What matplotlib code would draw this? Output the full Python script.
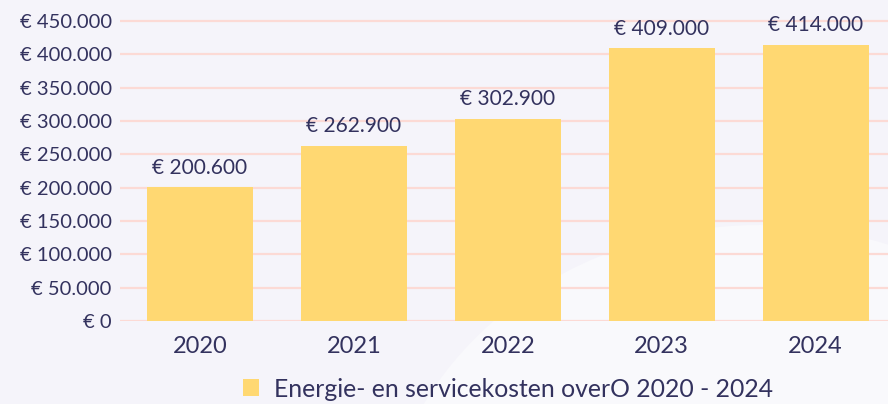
import matplotlib
matplotlib.use("Agg")
import matplotlib.pyplot as plt
from matplotlib.patches import Ellipse, Patch

years = ["2020", "2021", "2022", "2023", "2024"]
costs = [200600, 262900, 302900, 409000, 414000]
yticks = [0, 50000, 100000, 150000, 200000, 250000, 300000, 350000, 400000, 450000]
legend_label = "Energie- en servicekosten overO 2020 - 2024"

BG = "#f5f4fa"
GRID = "#fcdad5"
BAR = "#ffd872"
TXT = "#33325e"

def euro(v):
    s = f"{v:,.0f}".replace(",", ".")
    return "€ " + s

plt.rcParams["font.family"] = ["Lato", "DejaVu Sans"]

W, H = 888, 404
fig = plt.figure(figsize=(W / 100, H / 100), dpi=100)
fig.patch.set_facecolor(BG)

# decorative faint shape in background
bgax = fig.add_axes([0, 0, 1, 1], zorder=-1)
bgax.set_xlim(0, W)
bgax.set_ylim(H, 0)
bgax.axis("off")
bgax.add_patch(Ellipse((760, 560), 760, 670, facecolor="#f9f9fc", edgecolor="none"))

ymax = 460000
px_per = 300 / 450000
x0, y0 = 120, 321
top_px = y0 - ymax * px_per
ax = fig.add_axes([x0 / W, 1 - y0 / H, 1 - x0 / W, (y0 - top_px) / H])
ax.set_facecolor("none")

xs = list(range(len(years)))
bars = ax.bar(xs, costs, width=0.69, color=BAR, zorder=3, label=legend_label)
ax.set_xlim(-0.52, 4.47)
ax.set_ylim(0, ymax)

ax.set_yticks(yticks)
ax.set_yticklabels([euro(v) for v in yticks])
ax.set_xticks(xs)
ax.set_xticklabels(years)
ax.tick_params(axis="y", length=0, pad=6, labelsize=14.5, labelcolor=TXT)
ax.tick_params(axis="x", length=0, pad=11, labelsize=17, labelcolor=TXT)
for s in ax.spines.values():
    s.set_visible(False)
ax.grid(axis="y", color=GRID, linewidth=1.6)
ax.set_axisbelow(True)

for x, v in zip(xs, costs):
    ax.annotate(euro(v), (x, v), xytext=(0, 7), textcoords="offset points",
                ha="center", va="bottom", fontsize=15, color=TXT)

handle = Patch(facecolor=BAR, edgecolor="none")
fig.legend([handle], [legend_label], loc="center", bbox_to_anchor=(0.572, 0.037),
           frameon=False, fontsize=17.8, labelcolor=TXT, handlelength=0.68,
           handleheight=0.68, handletextpad=0.6, borderpad=0)

fig.savefig("out.png", dpi=100, facecolor=BG)
